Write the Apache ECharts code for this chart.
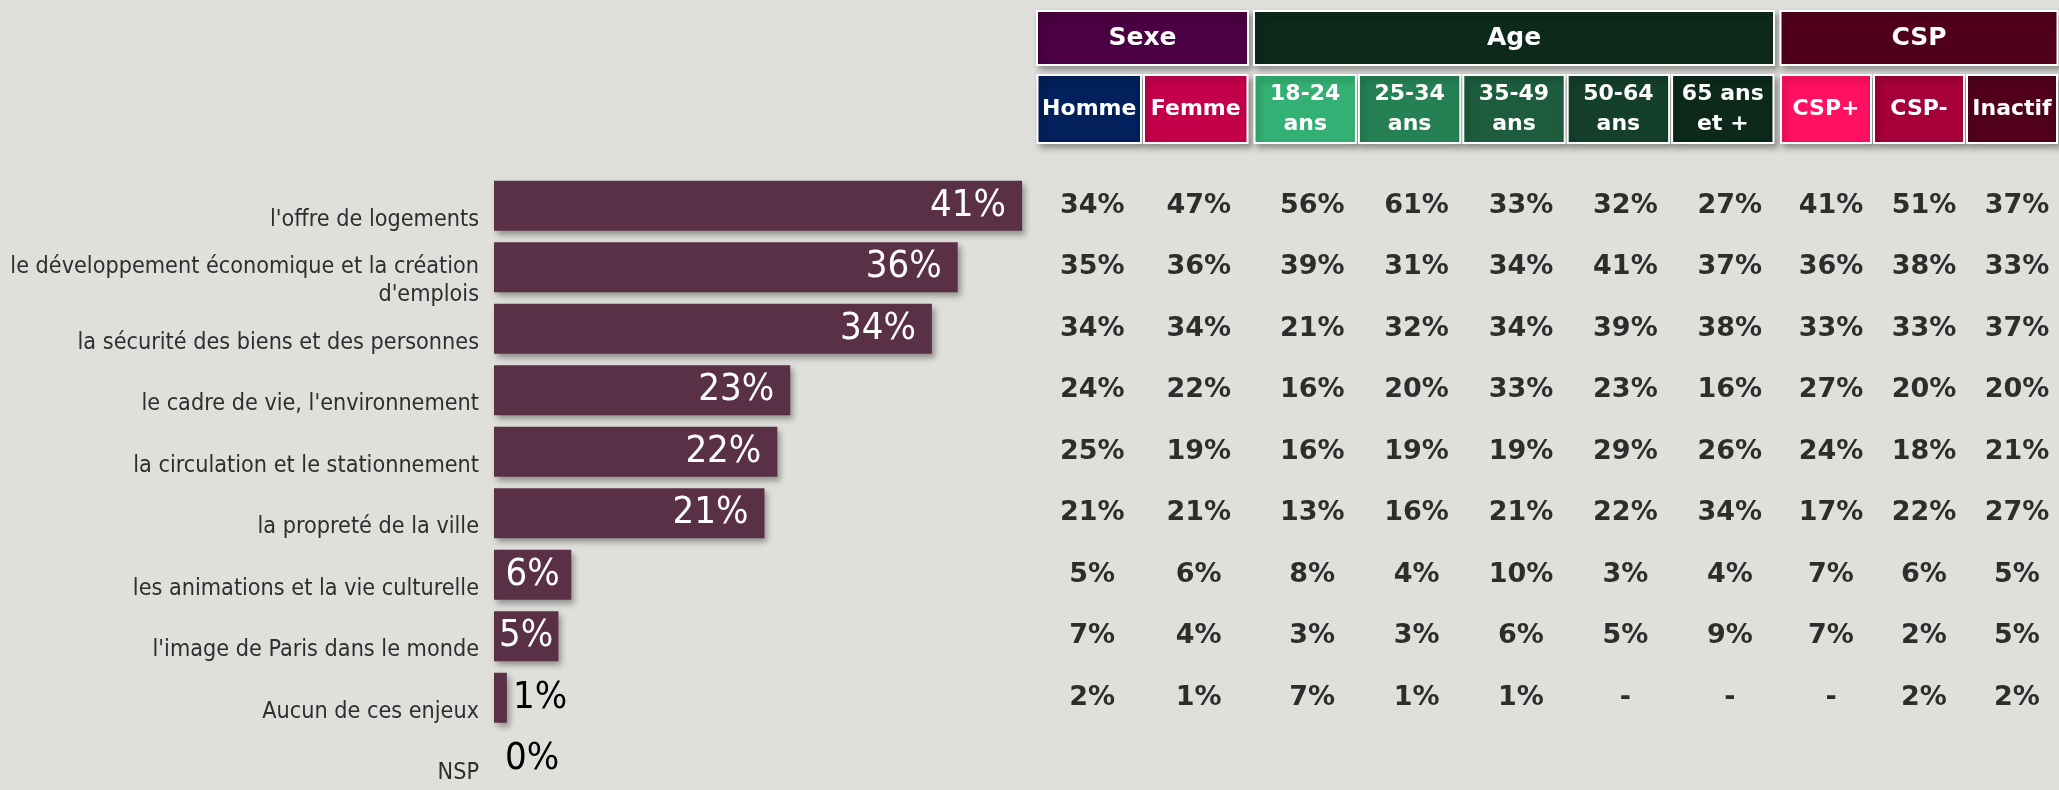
<!DOCTYPE html>
<html>
<head>
<meta charset="utf-8">
<script src="https://cdn.jsdelivr.net/npm/echarts@6/dist/echarts.min.js"></script>
<style>
  html, body { margin: 0; padding: 0; background: #dfe0db; }
  #chart { width: 2059px; height: 790px; }
</style>
</head>
<body>
<div id="chart"></div>
<script>
  var categories = [
    "l'offre de logements",
    "le développement économique et la création\nd'emplois",
    "la sécurité des biens et des personnes",
    "le cadre de vie, l'environnement",
    "la circulation et le stationnement",
    "la propreté de la ville",
    "les animations et la vie culturelle",
    "l'image de Paris dans le monde",
    "Aucun de ces enjeux",
    "NSP"
  ];
  var totals = [41, 36, 34, 23, 22, 21, 6, 5, 1, 0];

  // table columns (null = "-")
  var homme = [34, 35, 34, 24, 25, 21, 5, 7, 2];
  var femme = [47, 36, 34, 22, 19, 21, 6, 4, 1];
  var age1824 = [56, 39, 21, 16, 16, 13, 8, 3, 7];
  var age2534 = [61, 31, 32, 20, 19, 16, 4, 3, 1];
  var age3549 = [33, 34, 34, 33, 19, 21, 10, 6, 1];
  var age5064 = [32, 41, 39, 23, 29, 22, 3, 5, null];
  var age65 = [27, 37, 38, 16, 26, 34, 4, 9, null];
  var cspPlus = [41, 36, 33, 27, 24, 17, 7, 7, null];
  var cspMinus = [51, 38, 33, 20, 18, 22, 6, 2, 2];
  var inactif = [37, 33, 37, 20, 21, 27, 5, 5, 2];

  var groupNames = ["Sexe", "Age", "CSP"];
  var sexeCols = ["Homme", "Femme"];
  var ageCols = ["18-24\nans", "25-34\nans", "35-49\nans", "50-64\nans", "65 ans\net +"];
  var cspCols = ["CSP+", "CSP-", "Inactif"];

  var groups = [
    { name: groupNames[0], cols: sexeCols, values: [homme, femme] },
    { name: groupNames[1], cols: ageCols, values: [age1824, age2534, age3549, age5064, age65] },
    { name: groupNames[2], cols: cspCols, values: [cspPlus, cspMinus, inactif] }
  ];

  // styles
  var bg = "#dfe0db";
  var barColor = "#5a3046";
  var groupColors = ["#4a0042", "#0c291b", "#51001c"];
  var colColors = [
    ["#01205c", "#c4004b"],
    ["#33b073", "#258154", "#1d5d3e", "#143f2b", "#0c291b"],
    ["#ff1060", "#a6003a", "#51001c"]
  ];
  var tableGrids = [
    { left: 1036, width: 213, shift: 3 },
    { left: 1253, width: 522, shift: 7 },
    { left: 1779.5, width: 279, shift: 5 }
  ];
  var rowTop = 175;
  var rowHeight = 629;
  var regular = "'DejaVu Sans Condensed', 'DejaVu Sans', sans-serif";
  var bold = "'DejaVu Sans', sans-serif";

  var chart = echarts.init(document.getElementById("chart"), null, { renderer: "canvas" });

  function barData() {
    return totals.map(function (v) {
      var pos = v >= 10 ? "insideRight" : (v >= 5 ? "inside" : "right");
      return {
        value: v,
        label: {
          position: pos,
          distance: v >= 10 ? 16 : (v === 0 ? 11 : 6),
          color: v >= 5 ? "#ffffff" : "#000000"
        }
      };
    });
  }

  function headerRenderer(g) {
    return function (params, api) {
      var col = api.value(0);
      var cs = params.coordSys;
      var cx = api.coord([col, 0])[0];
      var bw = api.size([1, 0])[0];
      var shadow = { shadowBlur: 6, shadowOffsetX: 3, shadowOffsetY: 4, shadowColor: "rgba(0,0,0,0.35)" };
      var children = [
        {
          type: "rect",
          shape: { x: cx - bw / 2 + 1.5, y: 75, width: bw - 3, height: 68 },
          style: Object.assign({ fill: colColors[g][col], stroke: "#ffffff", lineWidth: 2 }, shadow)
        },
        {
          type: "text",
          x: cx,
          y: 109,
          style: {
            text: groups[g].cols[col],
            fill: "#ffffff",
            font: "bold 22px " + bold,
            align: "center",
            verticalAlign: "middle",
            lineHeight: 30
          }
        }
      ];
      if (col === 0) {
        children.push({
          type: "rect",
          shape: { x: cs.x + 1, y: 11, width: cs.width - 2, height: 54 },
          style: Object.assign({ fill: groupColors[g], stroke: "#ffffff", lineWidth: 2 }, shadow)
        });
        children.push({
          type: "text",
          x: cs.x + cs.width / 2,
          y: 38,
          style: {
            text: groups[g].name,
            fill: "#ffffff",
            font: "bold 25px " + bold,
            align: "center",
            verticalAlign: "middle"
          }
        });
      }
      return { type: "group", children: children };
    };
  }

  var grids = [{ left: 494, top: rowTop, width: 644, height: rowHeight }];
  var xAxes = [{
    type: "value", gridIndex: 0, min: 0, max: 50, show: false
  }];
  var yAxes = [{
    type: "category",
    gridIndex: 0,
    inverse: true,
    data: categories,
    axisLine: { show: false },
    axisTick: { show: false },
    axisLabel: {
      interval: 0,
      hideOverlap: false,
      showMinLabel: true,
      showMaxLabel: true,
      color: "#2e2e2e",
      fontFamily: regular,
      fontSize: 23.2,
      lineHeight: 28,
      margin: 15,
      align: "right",
      // leading blank line drops the text below the bar centre, as in the original
      formatter: function (v) { return "\n" + v; }
    }
  }];
  var series = [{
    type: "bar",
    xAxisIndex: 0,
    yAxisIndex: 0,
    barWidth: 50,
    data: barData(),
    itemStyle: {
      color: barColor,
      shadowBlur: 6,
      shadowOffsetX: 3,
      shadowOffsetY: 4,
      shadowColor: "rgba(0,0,0,0.35)"
    },
    label: {
      show: true,
      formatter: "{c}%",
      fontFamily: regular,
      fontSize: 38
    },
    silent: true
  }];

  groups.forEach(function (g, gi) {
    var idx = gi + 1;
    grids.push({ left: tableGrids[gi].left, width: tableGrids[gi].width, top: rowTop, height: rowHeight });
    xAxes.push({ type: "category", gridIndex: idx, data: g.cols, show: false });
    yAxes.push({ type: "category", gridIndex: idx, data: categories, inverse: true, show: false });

    var cells = [];
    g.values.forEach(function (colVals, c) {
      colVals.forEach(function (v, r) {
        cells.push({ value: [c, r], pct: v });
      });
    });
    series.push({
      type: "scatter",
      xAxisIndex: idx,
      yAxisIndex: idx,
      symbolSize: 1,
      itemStyle: { color: "rgba(0,0,0,0)" },
      data: cells,
      silent: true,
      label: {
        show: true,
        position: "inside",
        offset: [tableGrids[gi].shift, 0],
        color: "#000000",
        fontFamily: bold,
        fontWeight: "bold",
        fontSize: 27,
        formatter: function (p) {
          return p.data.pct == null ? "-" : p.data.pct + "%";
        }
      }
    });
    series.push({
      type: "custom",
      xAxisIndex: idx,
      yAxisIndex: idx,
      silent: true,
      z: 5,
      data: g.cols.map(function (name, c) { return [c, 0]; }),
      renderItem: headerRenderer(gi)
    });
  });

  chart.setOption({
    backgroundColor: bg,
    animation: false,
    grid: grids,
    xAxis: xAxes,
    yAxis: yAxes,
    series: series
  });
</script>
</body>
</html>
